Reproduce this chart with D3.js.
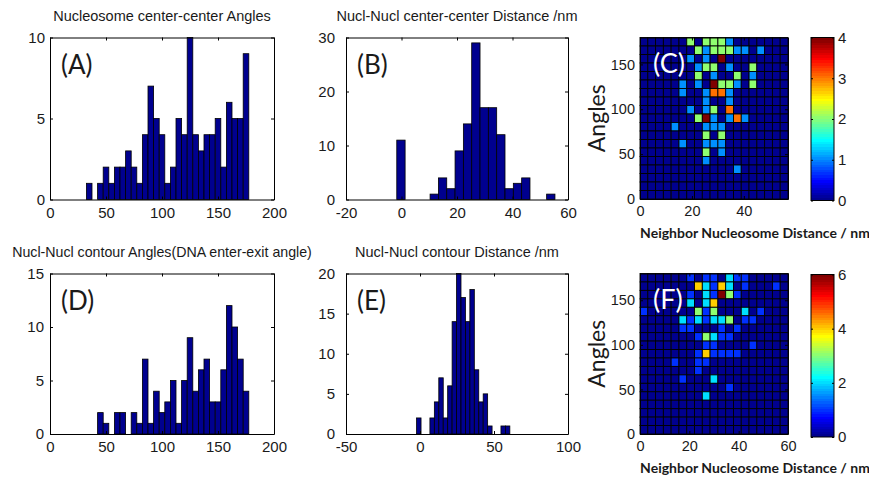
<!DOCTYPE html>
<html>
<head>
<meta charset="utf-8">
<script src="https://cdn.jsdelivr.net/npm/d3@7"></script>
<style>
  body { margin: 0; background: #fff; }
  svg { display: block; font-family: "Liberation Sans", Arial, sans-serif; }
</style>
</head>
<body>
<svg id="fig" width="869" height="489"></svg>
<script>
// ---- (A) nucleosome center-center angles, 5-degree bins ----
const ccAngleCenters = [35,40,45,50,55,60,65,70,75,80,85,90,95,100,105,110,115,120,125,130,135,140,145,150,155,160,165,170,175];
const ccAngleCounts  = [1,0,1,2,1,2,2,3,2,1,4,7,5,4,1,2,5,4,10,4,3,4,4,5,2,6,5,5,9];

// ---- (B) center-center distance, 3-nm bins ----
const ccDistCenters = [-0.2,2.8,5.8,8.8,11.8,14.8,17.8,20.8,23.8,26.8,29.8,32.8,35.8,38.8,41.8,44.8,47.8,50.8,53.8];
const ccDistCounts  = [11,0,0,0,1,4,2,9,14,29,17,17,12,2,3,4,0,0,1];

// ---- (D) contour (DNA enter-exit) angles, 5-degree bins ----
const ctAngleCenters = [45,50,55,60,65,70,75,80,85,90,95,100,105,110,115,120,125,130,135,140,145,150,155,160,165,170,175];
const ctAngleCounts  = [2,1,0,2,2,0,2,1,7,1,4,2,3,5,1,5,9,4,6,7,3,3,6,12,10,7,4];

// ---- (E) contour distance, 3-nm bins ----
const ctDistCenters = [-0.8,2.2,5.2,8.2,11.2,14.2,17.2,20.2,23.2,26.2,29.2,32.2,35.2,38.2,41.2,44.2,47.2,50.2,53.2,56.2,59.2];
const ctDistCounts  = [2,0,0,2,4,7,2,6,14,20,17,14,18,8,4,5,1,0,0,1,1];

// ---- (C) / (F) 2-D counts: rows run from the highest angle bin down, 19 distance bins per row ----
const ccGrid = [
  "0000002022210000000",
  "0000000212221101000",
  "0000001010400000000",
  "0000000122010020000",
  "0000000201002010000",
  "0000010104221020000",
  "0000010013310000000",
  "0000000010010000000",
  "0000001012030000000",
  "0000000241013100000",
  "0000100011100000000",
  "0000000020200000000",
  "0000010011100000000",
  "0000000020100000000",
  "0000000010000000000",
  "0000000000001000000",
  "0000000000000000000",
  "0000000000000000000",
  "0000000000000000000"
];
const ctGrid = [
  "0000001011021100000",
  "0000000421420100010",
  "0000001021631000000",
  "0000002024000000000",
  "1000000313000201000",
  "0000021212230110000",
  "0000011000101000000",
  "0000000132110000000",
  "0000000011000010000",
  "0000000141111000000",
  "0000100110000000000",
  "0000000100000000000",
  "0000010002000000000",
  "0000000000010000000",
  "0000000020000000000",
  "0000000000000000000",
  "0000000000000000000",
  "0000000000000000000",
  "0000000000000000000"
];

const histTitles = [
  "Nucleosome center-center Angles",
  "Nucl-Nucl center-center Distance /nm",
  "Nucl-Nucl contour Angles(DNA enter-exit angle)",
  "Nucl-Nucl contour Distance /nm"
];
const panelTags = ["(A)", "(B)", "(C)", "(D)", "(E)", "(F)"];
const mapXLabel = "Neighbor Nucleosome Distance / nm";
const mapYLabel = "Angles";

const svg = d3.select("#fig");
const BAR = "#00008f";
const INK = "#1a1a1a";
const plainNum = d => String(d);   // ASCII hyphen for negative ticks

// MATLAB-style jet(64) colormap
function jet64() {
  const m = 64, n = Math.ceil(m / 4);
  const u = [];
  for (let i = 1; i <= n; i++) u.push(i / n);
  for (let i = 1; i < n; i++) u.push(1);
  for (let i = n; i >= 1; i--) u.push(i / n);
  const off = Math.ceil(n / 2) - (m % 4 === 1 ? 1 : 0);
  const J = Array.from({length: m}, () => [0, 0, 0]);
  u.forEach((v, k) => {
    const g = off + k + 1, r = g + n, b = g - n;
    if (r >= 1 && r <= m) J[r - 1][0] = v;
    if (g >= 1 && g <= m) J[g - 1][1] = v;
    if (b >= 1 && b <= m) J[b - 1][2] = v;
  });
  return J.map(c => d3.rgb(c[0] * 255, c[1] * 255, c[2] * 255).formatHex());
}
const JET = jet64();
const jetColor = (v, cmax) => JET[Math.min(63, Math.floor(v / cmax * 64))];

// vertical gradient used by both colorbars
const grad = svg.append("defs").append("linearGradient")
  .attr("id", "jetbar").attr("x1", 0).attr("y1", 1).attr("x2", 0).attr("y2", 0);
JET.forEach((c, i) => {
  grad.append("stop").attr("offset", i / 64).attr("stop-color", c);
  grad.append("stop").attr("offset", (i + 1) / 64).attr("stop-color", c);
});

// box with inward ticks on all four sides
function frame(g, box, x, y, xTicks, yTicks, fs, xPad, yPad) {
  const t = 3;
  g.append("g").attr("transform", `translate(0,${box.y1})`)
    .call(d3.axisBottom(x).tickValues(xTicks).tickFormat(plainNum).tickSizeInner(-t).tickSizeOuter(0).tickPadding(xPad));
  g.append("g").attr("transform", `translate(0,${box.y0})`)
    .call(d3.axisTop(x).tickValues(xTicks).tickSizeInner(-t).tickSizeOuter(0).tickFormat(""));
  g.append("g").attr("transform", `translate(${box.x0},0)`)
    .call(d3.axisLeft(y).tickValues(yTicks).tickFormat(plainNum).tickSizeInner(-t).tickSizeOuter(0).tickPadding(yPad));
  g.append("g").attr("transform", `translate(${box.x1},0)`)
    .call(d3.axisRight(y).tickValues(yTicks).tickSizeInner(-t).tickSizeOuter(0).tickFormat(""));
  g.selectAll(".domain").attr("stroke", "#000").attr("stroke-width", 1);
  g.selectAll(".tick line").attr("stroke", "#000");
  g.selectAll(".tick text").attr("fill", INK).style("font-size", fs + "px")
    .style("font-family", '"Liberation Sans", Arial, sans-serif');
}

function histPanel(box, xDom, xTicks, yDom, yTicks, yPad, centers, counts, binW, title, titleSize, tag) {
  const x = d3.scaleLinear().domain(xDom).range([box.x0, box.x1]);
  const y = d3.scaleLinear().domain(yDom).range([box.y1, box.y0]);
  const g = svg.append("g");
  const data = centers.map((c, i) => ({c, n: counts[i]})).filter(d => d.n > 0);
  g.selectAll("rect").data(data).join("rect")
    .attr("x", d => x(d.c - binW / 2))
    .attr("width", d => x(d.c + binW / 2) - x(d.c - binW / 2))
    .attr("y", d => y(d.n))
    .attr("height", d => y(0) - y(d.n))
    .attr("fill", BAR).attr("stroke", "#000").attr("stroke-width", 0.8);
  frame(g, box, x, y, xTicks, yTicks, 15, 7.5, yPad);
  g.append("text").attr("x", (box.x0 + box.x1) / 2).attr("y", box.y0 - 17)
    .attr("text-anchor", "middle").attr("fill", INK).style("font-size", titleSize + "px").text(title);
  g.append("text").attr("x", box.x0 + 11).attr("y", box.y0 + 36)
    .attr("fill", INK).style("font-family", "Lato, sans-serif").style("font-size", "26px").text(tag);
}

function mapPanel(box, xDom, xTicks, grid, cmax, cbBox, cbTicks, tag) {
  const rows = grid.length, cols = grid[0].length;
  const x = d3.scaleLinear().domain(xDom).range([box.x0, box.x1]);
  const y = d3.scaleLinear().domain([0, 180]).range([box.y1, box.y0]);
  const dx = (xDom[1] - xDom[0]) / cols, dy = 180 / rows;
  const cells = [];
  grid.forEach((row, r) => row.split("").forEach((ch, c) => {
    cells.push({a0: 180 - (r + 1) * dy, d0: xDom[0] + c * dx, v: +ch});
  }));
  const g = svg.append("g");
  g.selectAll("rect").data(cells).join("rect")
    .attr("x", d => x(d.d0)).attr("width", d => x(d.d0 + dx) - x(d.d0))
    .attr("y", d => y(d.a0 + dy)).attr("height", d => y(d.a0) - y(d.a0 + dy))
    .attr("fill", d => jetColor(d.v, cmax)).attr("stroke", "#000").attr("stroke-width", 0.9);
  frame(g, box, x, y, xTicks, [0, 50, 100, 150], 14.5, 7, 5);
  g.append("text").attr("x", box.x0 + 13).attr("y", box.y0 + 35)
    .attr("fill", "#fff").style("font-family", "Lato, sans-serif").style("font-size", "27px").text(tag);
  g.append("text").attr("transform", `translate(${box.x0 - 35},${(box.y0 + box.y1) / 2}) rotate(-90)`)
    .attr("text-anchor", "middle").attr("fill", INK)
    .style("font-family", "Lato, sans-serif").style("font-size", "23px").text(mapYLabel);
  g.append("text").attr("x", box.x0 + 115).attr("y", box.y1 + 39)
    .attr("text-anchor", "middle").attr("fill", INK)
    .style("font-family", "Lato, sans-serif").style("font-weight", "bold").style("font-size", "14px").text(mapXLabel);

  // colorbar
  const cy = d3.scaleLinear().domain([0, cmax]).range([cbBox.y1, cbBox.y0]);
  const cg = svg.append("g");
  cg.append("rect").attr("x", cbBox.x0).attr("y", cbBox.y0)
    .attr("width", cbBox.x1 - cbBox.x0).attr("height", cbBox.y1 - cbBox.y0)
    .attr("fill", "url(#jetbar)");
  cg.append("g").attr("transform", `translate(${cbBox.x1},0)`)
    .call(d3.axisRight(cy).tickValues(cbTicks).tickFormat(plainNum).tickSizeInner(-2).tickSizeOuter(0).tickPadding(4));
  cg.append("g").attr("transform", `translate(${cbBox.x0},0)`)
    .call(d3.axisLeft(cy).tickValues(cbTicks).tickSizeInner(-2).tickSizeOuter(0).tickFormat(""));
  cg.append("rect").attr("x", cbBox.x0).attr("y", cbBox.y0)
    .attr("width", cbBox.x1 - cbBox.x0).attr("height", cbBox.y1 - cbBox.y0)
    .attr("fill", "none").attr("stroke", "#000").attr("stroke-width", 1);
  cg.selectAll(".domain").remove();
  cg.selectAll(".tick line").attr("stroke", "#000");
  cg.selectAll(".tick text").attr("fill", INK).style("font-size", "15px")
    .style("font-family", '"Liberation Sans", Arial, sans-serif');
}

histPanel({x0: 50, x1: 274, y0: 37.5, y1: 199.5}, [0, 200], [0, 50, 100, 150, 200], [0, 10], [0, 5, 10], 5,
  ccAngleCenters, ccAngleCounts, 5, histTitles[0], 14.5, panelTags[0]);
histPanel({x0: 346, x1: 568, y0: 37.5, y1: 199.5}, [-20, 60], [-20, 0, 20, 40, 60], [0, 30], [0, 10, 20, 30], 11,
  ccDistCenters, ccDistCounts, 3, histTitles[1], 14.5, panelTags[1]);
histPanel({x0: 50, x1: 274, y0: 273.5, y1: 434}, [0, 200], [0, 50, 100, 150, 200], [0, 15], [0, 5, 10, 15], 6,
  ctAngleCenters, ctAngleCounts, 5, histTitles[2], 14.2, panelTags[3]);
histPanel({x0: 346, x1: 568, y0: 273.5, y1: 434}, [-50, 100], [-50, 0, 50, 100], [0, 20], [0, 5, 10, 15, 20], 11,
  ctDistCenters, ctDistCounts, 3, histTitles[3], 14.5, panelTags[4]);

mapPanel({x0: 640, x1: 788, y0: 37.5, y1: 199}, [0, 57], [0, 20, 40], ccGrid, 4,
  {x0: 811, x1: 834, y0: 37.5, y1: 200.5}, [0, 1, 2, 3, 4], panelTags[2]);
mapPanel({x0: 640, x1: 788, y0: 273.5, y1: 434}, [0, 60], [0, 20, 40, 60], ctGrid, 6,
  {x0: 811, x1: 834, y0: 274.5, y1: 437}, [0, 2, 4, 6], panelTags[5]);
</script>
</body>
</html>
